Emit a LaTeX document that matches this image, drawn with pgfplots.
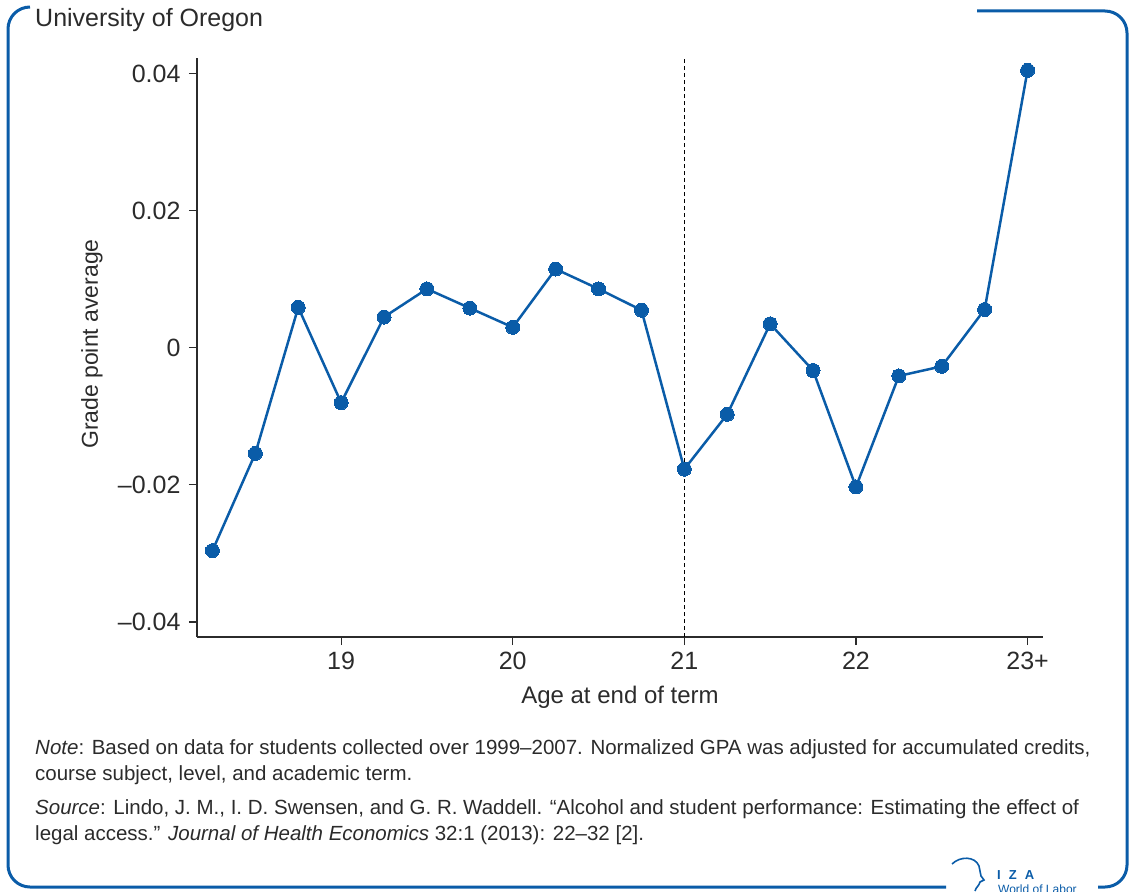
\documentclass[border=0pt]{standalone}
\usepackage{pgfplots}
\pgfplotsset{compat=1.18}
\usepackage{fontspec}
\setmainfont{Liberation Sans}
\definecolor{izablue}{HTML}{0A5CA8}
\definecolor{txt}{HTML}{2B2B2B}
\begin{document}
\begin{tikzpicture}[x=1pt,y=-1pt]
\path[use as bounding box] (0,0) rectangle (1129,891);
% frame
\draw[izablue, line width=3pt, rounded corners=22pt] (30,7) -- (8,7) -- (8,887) -- (946,887);
\draw[izablue, line width=3pt, rounded corners=22pt] (977,11) -- (1127,11) -- (1127,887) -- (1098,887);
% subtitle
\node[anchor=base west, text=txt, font=\fontsize{25}{30}\selectfont, inner sep=0] at (35,27) {University of Oregon};
% notes
\begin{scope}[every node/.style={anchor=base west, text=txt, font=\fontsize{20.5}{26}\selectfont, inner sep=0}]
\node at (35,754) {\textit{Note}: Based on data for students collected over 1999–2007. Normalized GPA was adjusted for accumulated credits,};
\node at (35,780) {course subject, level, and academic term.};
\node at (35,814) {\textit{Source}: Lindo, J. M., I. D. Swensen, and G. R. Waddell. “Alcohol and student performance: Estimating the effect of};
\node at (35,840) {legal access.” \textit{Journal of Health Economics} 32:1 (2013): 22–32 [2].};
\end{scope}
% logo
\draw[izablue, line width=1.6pt] (952,864) .. controls (960,856) and (975,856) .. (979,866) -- (981,876) -- (984,880) -- (980,882) .. controls (979,886) and (976,887) .. (975,891);
\node[anchor=base west, inner sep=0, text=izablue, font=\bfseries\fontsize{13}{13}\selectfont] at (997,879) {I\hspace{8pt}Z\hspace{8pt}A};
\node[anchor=base west, inner sep=0, text=izablue, font=\fontsize{12}{12}\selectfont] at (998,893) {World of Labor};
\begin{scope}[x=1cm,y=1cm]
\begin{axis}[
  at={(197pt,-637pt)}, anchor=south west,
  scale only axis, width=846pt, height=579pt,
  xmin=18.16, xmax=23.09, ymin=-0.0422, ymax=0.0423,
  scaled y ticks=false, scaled x ticks=false,
  axis x line*=bottom, axis y line*=left,
  axis line style={draw=txt, line width=1.3pt, -},
  tick align=outside, major tick length=8pt,
  every tick/.style={draw=txt, line width=1.2pt},
  xtick={19,20,21,22,23}, xticklabels={19,20,21,22,23+},
  ytick={-0.04,-0.02,0,0.02,0.04}, yticklabels={–0.04,–0.02,0,0.02,0.04},
  ticklabel style={text=txt, font=\fontsize{25}{30}\selectfont},
  xticklabel style={yshift=-4pt},
  yticklabel style={xshift=-5pt},
  xlabel={Age at end of term}, ylabel={Grade point average},
  every axis x label/.style={at={(axis description cs:0.5,-0.1036)}, anchor=center, text=txt, font=\fontsize{24}{28}\selectfont},
  every axis y label/.style={at={(axis description cs:-0.1241,0.506)}, anchor=center, rotate=90, text=txt, font=\fontsize{23}{28}\selectfont},
  clip=false,
]
\addplot[black, line width=1pt, dash pattern=on 4pt off 3pt] coordinates {(21,-0.0422) (21,0.0423)};
\addplot[izablue, line width=2.5pt, mark=*, mark size=7pt, mark options={fill=izablue, draw=izablue, line width=0pt}] coordinates {
(18.25,-0.0296) (18.5,-0.0154) (18.75,0.0059) (19,-0.0080) (19.25,0.0045) (19.5,0.0086) (19.75,0.0058) (20,0.0030) (20.25,0.0115) (20.5,0.0086) (20.75,0.0055) (21,-0.0177) (21.25,-0.0097) (21.5,0.0035) (21.75,-0.0033) (22,-0.0203) (22.25,-0.0041) (22.5,-0.0027) (22.75,0.0056) (23,0.0405)
};
\end{axis}
\end{scope}
\end{tikzpicture}
\end{document}
